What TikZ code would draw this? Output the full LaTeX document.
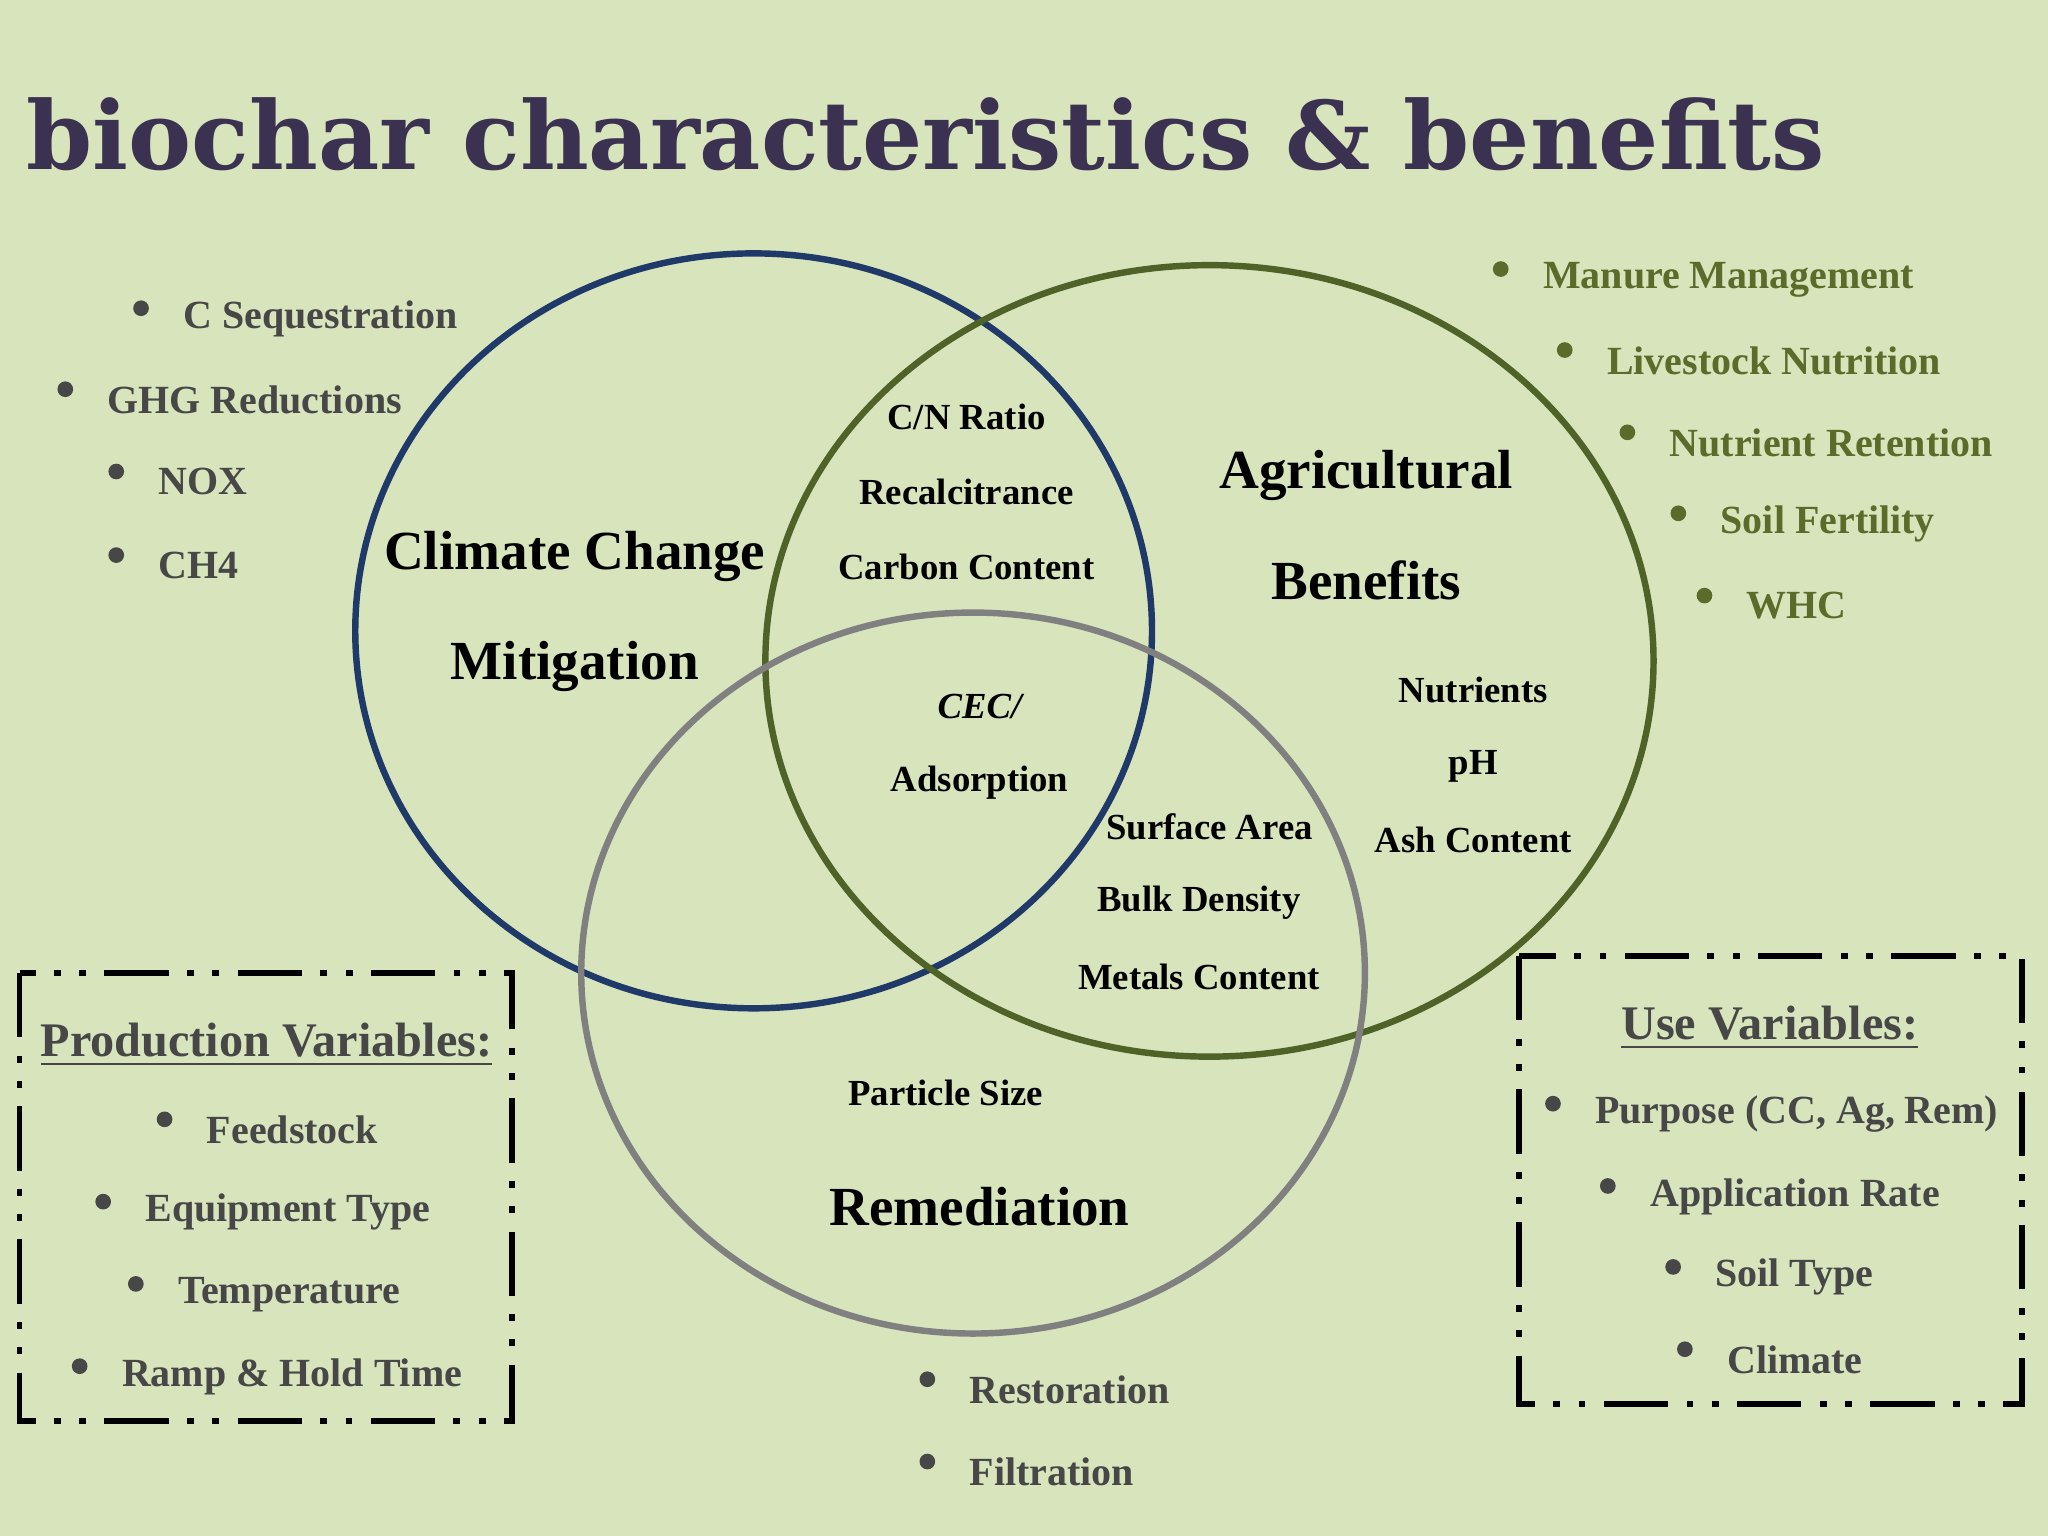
\documentclass[tikz,border=0pt]{standalone}
\usepackage{fontspec}
\setmainfont{Liberation Serif}
\newfontfamily\titlefont{DejaVu Serif}
\definecolor{bg}{HTML}{D8E4BC}
\definecolor{navy}{HTML}{1F3A68}
\definecolor{olive}{HTML}{4F6228}
\definecolor{oltext}{HTML}{5A6B2A}
\definecolor{greyc}{HTML}{808080}
\definecolor{dgrey}{HTML}{474747}
\definecolor{titlec}{HTML}{3B3150}
\begin{document}
\begin{tikzpicture}[x=0.01cm,y=-0.01cm,
  ring/.style={line width=1.4pt},
  big/.style={font=\bfseries\fontsize{12}{14}\selectfont,align=center},
  small/.style={font=\bfseries\fontsize{8}{9}\selectfont,anchor=center},
  blt/.style={font=\bfseries\fontsize{8.7}{10}\selectfont,anchor=west},
  vbox/.style={line width=1.2pt,dash pattern=on 14pt off 4pt on 1.5pt off 4pt on 1.5pt off 4pt}]
\fill[bg] (0,0) rectangle (1568,1176);
\useasboundingbox (0,0) rectangle (1568,1176);
\node[anchor=west,text=titlec,font=\titlefont\bfseries\fontsize{20.6}{22}\selectfont] (title) at (8,103) {biochar characteristics \& benefits};
% circles
\draw[ring,navy] (577,483) ellipse [x radius=305,y radius=289];
\draw[ring,olive] (926,506) ellipse [x radius=340,y radius=303];
\draw[ring,greyc] (745,745) ellipse [x radius=300,y radius=276];
% big labels
\node[big] (cc) at (440,468) {Climate Change\\[10pt]Mitigation};
\node[big] (ag) at (1046,402) {Agricultural\\[10pt]Benefits};
\node[big] (rem) at (750,924) {Remediation};
% small labels
\node[small] (cn) at (740,319) {C/N Ratio};
\node[small] (rc) at (740,377) {Recalcitrance};
\node[small] (ccn) at (740,434) {Carbon Content};
\node[small] (cec) at (750,541) {\itshape CEC/};
\node[small] (ads) at (750,599) {Adsorption};
\node[small] (nu) at (1128,528) {Nutrients};
\node[small] (ph) at (1128,587) {pH};
\node[small] (ash) at (1128,643) {Ash Content};
\node[small] (sa) at (926,633) {Surface Area};
\node[small] (bd) at (918,691) {Bulk Density};
\node[small] (mc) at (918,748) {Metals Content};
\node[small] (ps) at (724,837) {Particle Size};
% bullets
\foreach \x/\y/\t/\c [count=\i] in {
 108/236/C Sequestration/dgrey, 50/298/GHG Reductions/dgrey, 89/361/NOX/dgrey, 89/425/CH4/dgrey,
 1149/206/Manure Management/oltext, 1198/268/Livestock Nutrition/oltext, 1246/331/Nutrient Retention/oltext,
 1285/393/Soil Fertility/oltext, 1305/456/WHC/oltext,
 126/857/Feedstock/dgrey, 79/920/Equipment Type/dgrey, 104/983/Temperature/dgrey, 61/1046/Ramp \& Hold Time/dgrey,
 1189/845/{Purpose (CC, Ag, Rem)}/dgrey, 1231/908/Application Rate/dgrey, 1281/970/Soil Type/dgrey, 1290/1033/Climate/dgrey,
 710/1056/Restoration/dgrey, 710/1119/Filtration/dgrey}
 {\fill[\c] (\x,\y) circle (6) coordinate (b\i);
  \node[blt,text=\c] (t\i) at (\x+20,\y+8) {\t};}
% variable boxes
\draw[vbox] (15,745) rectangle (392,1088);
\node[font=\bfseries\fontsize{10.5}{12}\selectfont,text=dgrey] (pv) at (204,800) {\underline{Production Variables:}};
\draw[vbox] (1163,732) rectangle (1548,1075);
\node[font=\bfseries\fontsize{10.5}{12}\selectfont,text=dgrey] (uv) at (1355,787) {\underline{Use Variables:}};
\end{tikzpicture}
\end{document}
